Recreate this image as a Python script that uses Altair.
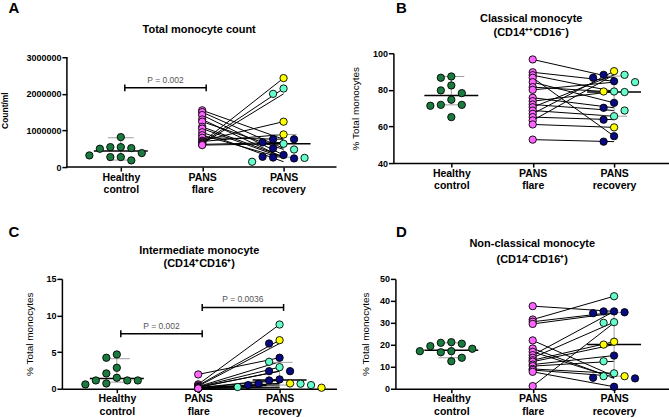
import json
import altair as alt
import pandas as pd

FONT = "Liberation Sans"
CATEGORY_LABELS = [["Healthy", "control"], ["PANS", "flare"], ["PANS", "recovery"]]
GROUP_COLORS = {"yellow": "#ffff00", "turquoise": "#66ffcc", "navy": "#0a0a80"}
HEALTHY_COLOR = "#1b7a3e"
FLARE_COLOR = "#ff66ff"

# ---------------- Panel A: total monocyte count
A_letter = "A"
A_title = ["Total monocyte count"]
A_ytitle = "Count/ml"
A_yticks = [0, 1000000, 2000000, 3000000]
A_healthy = [818000, 545000, 545000, 518000, 500000, 382000, 318000, 273000, 273000, 182000]
A_flare = [1550000, 1500000, 1420000, 1300000, 1240000, 1100000, 1050000, 950000, 870000,
           800000, 720000, 700000, 680000, 660000, 640000, 620000, 600000]
A_recovery = [760000, 510000, 330000, 260000, 480000, 280000, 250000, 145000, 236000,
              760000, 1240000, 890000, 2430000, 2145000, 2000000, 673000, 636000]
A_group = ["navy", "navy", "navy", "navy", "turquoise", "navy", "turquoise", "turquoise", "navy",
           "navy", "yellow", "yellow", "yellow", "turquoise", "turquoise", "navy", "turquoise"]
A_healthy_stats = [436000, 191000, 800000]   # median, lower, upper
A_recovery_stats = [636000, 270000, 890000]
A_pvalues = [[1, 2, 2163000, "P = 0.002"]]

# ---------------- Panel B: classical monocyte
B_letter = "B"
B_title = ["Classical monocyte", "(CD14\u207a\u207aCD16\u207b)"]
B_ytitle = "% Total monocytes"
B_yticks = [40, 60, 80, 100]
B_healthy = [87.3, 86.6, 82.4, 79.7, 78.2, 74.6, 71.8, 71.8, 71.3, 65.1]
B_flare = [96.6, 89.6, 88.0, 86.6, 84.2, 81.5, 80.0, 75.7, 73.8, 72.0, 70.5, 68.7, 66.9,
           65.1, 63.3, 61.1, 52.8]
B_recovery = [86.6, 84.7, 79.1, 54.7, 72.9, 78.8, 84.2, 70.2, 79.1, 68.7, 88.2, 65.6, 90.2,
              63.7, 88.2, 59.5, 51.7]
B_group = ["navy", "navy", "turquoise", "navy", "navy", "turquoise", "turquoise", "navy", "yellow",
           "turquoise", "navy", "turquoise", "yellow", "navy", "turquoise", "yellow", "navy"]
B_healthy_stats = [76.9, 71.8, 87.3]
B_recovery_stats = [78.8, 65.6, 87.5]
B_pvalues = []

# ---------------- Panel C: intermediate monocyte
C_letter = "C"
C_title = ["Intermediate monocyte", "(CD14\u207aCD16\u207a)"]
C_ytitle = "% Total monocytes"
C_yticks = [0, 5, 10, 15]
C_healthy = [4.68, 4.23, 2.86, 2.09, 1.5, 1.13, 1.13, 1.13, 0.72, 0.59]
C_flare = [1.95, 0.6, 0.45, 0.35, 0.3, 0.25, 0.2, 0.18, 0.15, 0.12, 0.1, 0.1, 0.08, 0.06,
           0.05, 0.05, 0.04]
C_recovery = [4.23, 8.77, 6.63, 6.18, 3.68, 2.95, 2.4, 2.4, 1.27, 1.13, 0.72, 0.68, 0.68, 0.5,
              0.5, 0.23, 0.14]
C_group = ["navy", "turquoise", "yellow", "navy", "turquoise", "turquoise", "navy", "navy", "navy",
           "navy", "yellow", "navy", "turquoise", "navy", "turquoise", "turquoise", "yellow"]
C_healthy_stats = [1.4, 0.9, 4.1]
C_recovery_stats = [1.2, 0.5, 3.6]
C_pvalues = [[1, 2, 7.5, "P = 0.002"], [2, 3, 11.1, "P = 0.0036"]]

# ---------------- Panel D: non-classical monocyte
D_letter = "D"
D_title = ["Non-classical monocyte", "(CD14\u207bCD16\u207a)"]
D_ytitle = "% Total monocytes"
D_yticks = [0, 10, 20, 30, 40, 50]
D_healthy = [21.2, 20.9, 20.5, 19.4, 18.2, 17.1, 17.1, 16.6, 14.1, 12.5]
D_flare = [37.6, 31.5, 30.5, 29.5, 22.0, 18.3, 16.8, 15.3, 14.1, 13.0, 12.3, 11.0, 10.3, 9.0,
           8.5, 7.7, 1.2]
D_recovery = [35.2, 42.1, 34.8, 34.4, 5.7, 4.7, 5.0, 35.2, 30.3, 21.4, 20.1, 15.1, 12.5, 7.0,
              5.7, 0.9, 30.0]
D_group = ["navy", "turquoise", "navy", "navy", "turquoise", "navy", "navy", "navy", "turquoise",
           "yellow", "yellow", "navy", "turquoise", "turquoise", "yellow", "navy", "turquoise"]
D_healthy_stats = [17.5, 14.1, 20.9]
D_recovery_stats = [20.1, 5.7, 34.7]
D_pvalues = []

# ---------------- layout (pixels)
PX_PER_CAT = 81.5
DIAM = 8.6      # collision distance between dot centres
STEP = 10.5     # horizontal spacing of beeswarm columns


def beeswarm(values, to_px):
    order = sorted(range(len(values)), key=lambda i: -values[i])
    placed, offs = [], [0.0] * len(values)
    ks = [0]
    for k in range(1, 12):
        ks += [-k, k]
    for i in order:
        y = to_px(values[i])
        for k in ks:
            x = k * STEP
            if all((x - px) ** 2 + (y - py) ** 2 >= DIAM ** 2 for px, py in placed):
                break
        placed.append((x, y))
        offs[i] = x
    return offs


label_expr = " : ".join(
    f"datum.value == {i + 1} ? {json.dumps(lab)}" for i, lab in enumerate(CATEGORY_LABELS)
) + " : ''"


def panel(letter, title, ytitle, yticks, healthy, flare, recovery, group, hstats, rstats,
          pvals, W, H, c1, ydom, shift, tpad, ytfont, ytweight, title_y, letter_xy, anchor=False):
    x0 = 1 - c1 / PX_PER_CAT
    x1 = x0 + W / PX_PER_CAT
    u = 1 / PX_PER_CAT                      # data units per pixel along x
    vy = (ydom[1] - ydom[0]) / H            # data units per pixel along y
    to_px = lambda v: (v - ydom[0]) / vy

    xs = alt.Scale(domain=[x0, x1], nice=False, zero=False)
    ys = alt.Scale(domain=ydom, nice=False, zero=False)
    xaxis = alt.Axis(values=[1, 2, 3], labelExpr=label_expr, title=None, grid=False,
                     domain=(shift == 0), domainColor="black", domainWidth=1.5,
                     ticks=True, tickSize=4, tickColor="black", tickWidth=1.5,
                     labelFont=FONT, labelFontSize=10.5, labelFontWeight="bold",
                     labelColor="black", labelLineHeight=12.5, labelPadding=1,
                     labelBaseline="top")
    yaxis = alt.Axis(values=yticks, format="d", title=ytitle, grid=False,
                     domain=(shift == 0), domainColor="black", domainWidth=1.5,
                     ticks=True, tickSize=5, tickColor="black", tickWidth=1.5,
                     labelFont=FONT, labelFontSize=9, labelFontWeight="bold",
                     labelColor="black", labelPadding=1, offset=-shift,
                     titleFont=FONT, titleFontSize=ytfont, titleFontWeight=ytweight,
                     titleColor="black", titlePadding=tpad)

    def X(f="x"):
        return alt.X(f"{f}:Q", scale=xs, axis=xaxis)

    def Y(f="y"):
        return alt.Y(f"{f}:Q", scale=ys, axis=yaxis)

    hoff = beeswarm(healthy, to_px)
    roff = beeswarm(recovery, to_px)
    pts = []
    for v, o in zip(healthy, hoff):
        pts.append({"x": 1 + o * u, "y": v, "c": HEALTHY_COLOR})
    for v in flare:
        pts.append({"x": 2, "y": v, "c": FLARE_COLOR})
    for v, o, g in zip(recovery, roff, group):
        pts.append({"x": 3 + o * u, "y": v, "c": GROUP_COLORS[g]})
    pts = pd.DataFrame(pts)

    lines = []
    for i, (f, r) in enumerate(zip(flare, recovery)):
        lines.append({"pid": i, "x": 2, "y": f})
        lines.append({"pid": i, "x": 3, "y": r})
    lines = pd.DataFrame(lines)

    med, iqr = [], []
    for c, (m, lo, hi) in ((1, hstats), (3, rstats)):
        med.append({"x": c - 27 * u, "x2": c + 27 * u, "y": m, "y2": m})
        iqr.append({"x": c, "x2": c, "y": lo, "y2": hi})
        iqr.append({"x": c - 13 * u, "x2": c + 13 * u, "y": lo, "y2": lo})
        iqr.append({"x": c - 13 * u, "x2": c + 13 * u, "y": hi, "y2": hi})
    med, iqr = pd.DataFrame(med), pd.DataFrame(iqr)

    base_line = alt.Chart(lines).mark_line(color="black", strokeWidth=1).encode(
        x=X(), y=Y(), detail="pid:N")
    iqr_l = alt.Chart(iqr).mark_rule(color="#a0a0a0", strokeWidth=1).encode(
        x=X(), x2="x2:Q", y=Y(), y2="y2:Q")
    med_l = alt.Chart(med).mark_rule(color="black", strokeWidth=1.5).encode(
        x=X(), x2="x2:Q", y=Y(), y2="y2:Q")
    pts_l = alt.Chart(pts).mark_circle(size=54, opacity=1, stroke="black",
                                       strokeWidth=0.9).encode(
        x=X(), y=Y(), color=alt.Color("c:N", scale=None))
    layers = [base_line, iqr_l, med_l, pts_l]

    if pvals:
        bars, caps, texts = [], [], []
        for a, b, yv, lab in pvals:
            xa, xb = a + 4 * u, b + 4 * u
            bars.append({"x": xa, "x2": xb, "y": yv, "y2": yv})
            for xe in (xa, xb):
                caps.append({"x": xe, "x2": xe, "y": yv - 3.5 * vy, "y2": yv + 3.5 * vy})
            texts.append({"x": (xa + xb) / 2, "y": yv, "t": lab})
        layers.append(alt.Chart(pd.DataFrame(bars + caps)).mark_rule(
            color="black", strokeWidth=1.5).encode(x=X(), x2="x2:Q", y=Y(), y2="y2:Q"))
        layers.append(alt.Chart(pd.DataFrame(texts)).mark_text(
            font=FONT, fontSize=8.5, color="#555555", baseline="bottom", dy=-3).encode(
            x=X(), y=Y(), text="t:N"))

    if shift:
        ax = pd.DataFrame([
            {"x": x0 + shift * u, "x2": x0 + shift * u, "y": ydom[0], "y2": yticks[-1]},
            {"x": x0 + shift * u, "x2": x1, "y": ydom[0], "y2": ydom[0]},
        ])
        layers.append(alt.Chart(ax).mark_rule(color="black", strokeWidth=1.5).encode(
            x=X(), x2="x2:Q", y=Y(), y2="y2:Q"))

    # panel title lines
    for line, ty in zip(title, title_y):
        layers.append(alt.Chart(pd.DataFrame([{"t": line}])).mark_text(
            font=FONT, fontSize=11, fontWeight="bold", color="black",
            align="center", baseline="middle").encode(
            x=alt.value(W / 2), y=alt.value(ty), text="t:N"))

    let = pd.DataFrame([{"t": letter}])
    layers.append(alt.Chart(let).mark_text(
        font=FONT, fontSize=15, fontWeight="bold", color="black",
        align="center", baseline="middle").encode(
        x=alt.value(letter_xy[0]), y=alt.value(letter_xy[1]), text="t:N"))
    if anchor:
        layers.append(alt.Chart(let).mark_rule(strokeWidth=0, opacity=0).encode(
            x=alt.value(-60), x2=alt.value(-60), y=alt.value(-53), y2=alt.value(-53)))

    return alt.layer(*layers).properties(width=W, height=H)


pA = panel(A_letter, A_title, A_ytitle, A_yticks, A_healthy, A_flare, A_recovery, A_group,
           A_healthy_stats, A_recovery_stats, A_pvalues,
           W=275, H=114, c1=59, ydom=[0, 3000000 * 114 / 110], shift=5, tpad=16,
           ytfont=8.5, ytweight="bold", title_y=[-23], letter_xy=(-48, -45), anchor=True)
pB = panel(B_letter, B_title, B_ytitle, B_yticks, B_healthy, B_flare, B_recovery, B_group,
           B_healthy_stats, B_recovery_stats, B_pvalues,
           W=276, H=110, c1=58, ydom=[40, 100], shift=0, tpad=12,
           ytfont=10, ytweight="normal", title_y=[-34, -20], letter_xy=(8, -45))
pC = panel(C_letter, C_title, C_ytitle, C_yticks, C_healthy, C_flare, C_recovery, C_group,
           C_healthy_stats, C_recovery_stats, C_pvalues,
           W=275, H=110, c1=55, ydom=[0, 15], shift=0, tpad=11,
           ytfont=10, ytweight="normal", title_y=[-28, -15], letter_xy=(-48, -47))
pD = panel(D_letter, D_title, D_ytitle, D_yticks, D_healthy, D_flare, D_recovery, D_group,
           D_healthy_stats, D_recovery_stats, D_pvalues,
           W=274, H=110, c1=56, ydom=[0, 50], shift=0, tpad=9,
           ytfont=10, ytweight="normal", title_y=[-34.5, -19], letter_xy=(6, -47))

row1 = alt.hconcat(pA, pB, spacing=57, bounds="flush")
row2 = alt.hconcat(pC, pD, spacing=59, bounds="flush")
# with flush bounds nested rows count as zero height, so spacing is top-to-top distance
chart = alt.vconcat(row1, row2, spacing=226, bounds="flush").properties(
    padding=0, background="white"
).configure_view(stroke=None)

chart.save("out.html", embed_options={"renderer": "svg", "actions": False})
